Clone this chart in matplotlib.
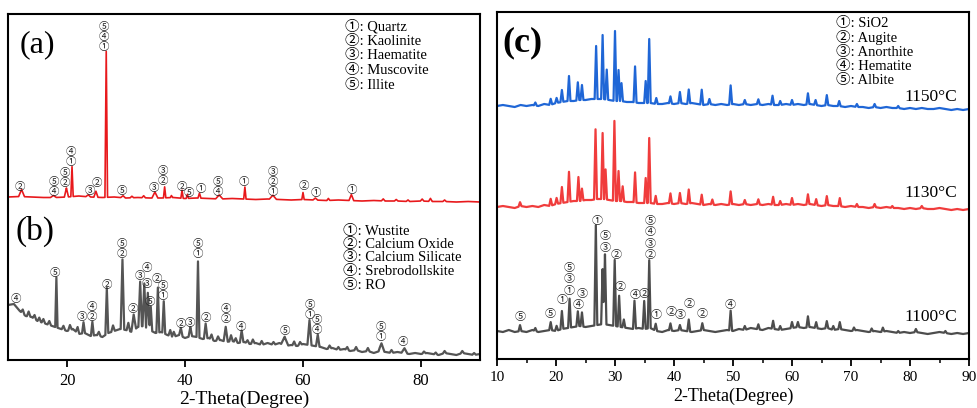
import numpy as np
import matplotlib.pyplot as plt

plt.rcParams['font.family'] = ['Liberation Serif', 'Noto Sans CJK SC']

# ---- (a) raw clay: baseline knots every 2 degrees, peaks as position / height / half-width
a_bx = np.arange(10, 91, 2)
a_by = [163, 163.5, 163, 162.5, 162.5, 163, 164, 163, 162.5, 163,
        162, 162.5, 162, 162, 162.5, 161.5, 162, 161.5, 161, 161.5,
        161, 160.5, 161, 160.5, 160, 160.5, 160, 159.5, 160, 159.5,
        159, 159.5, 159, 159, 158.5, 159, 158.5, 158.5, 158, 158.5, 158]
a_pos = [12.3, 17.7, 19.9, 20.85, 23.6, 24.9, 26.65, 29.5, 31.0, 33.0,
         34.9, 36.55, 37.7, 39.5, 40.4, 42.45, 45.8, 50.15, 54.9, 60.0,
         62.1, 64.3, 68.2, 73.6, 75.8, 77.8, 80.2, 81.6, 84.0]
a_h = [7, 2, 9, 30, 2, 6, 146, 2, 1.5, 2,
       6, 11, 2, 8, 4, 5, 4, 12, 4, 7,
       2, 2, 6, 2, 1.5, 1.5, 2, 3, 1.5]
a_w = [0.5, 0.5, 0.35, 0.2, 0.4, 0.35, 0.22, 0.4, 0.3, 0.3,
       0.5, 0.2, 0.2, 0.2, 0.2, 0.25, 0.6, 0.2, 0.6, 0.2,
       0.4, 0.25, 0.4, 0.3, 0.3, 0.3, 0.3, 0.3, 0.3]

# ---- (b) slag
b_bx = np.arange(10, 91, 1)
b_by = [55, 50, 49, 44, 43, 39, 37, 35, 33, 31,
        29, 31, 26, 27, 24, 25, 23, 27, 29, 31,
        30, 28, 33, 34, 30, 27, 28, 25, 23, 25,
        22, 24, 23, 21, 22, 19, 20, 18, 19, 17,
        18, 16, 17, 15, 17, 15, 17, 14, 15, 14,
        16, 15, 14, 13, 11, 12, 10, 11, 9, 10,
        8, 9, 7, 9, 8, 7, 8, 7, 6, 7,
        6, 7, 6, 5, 7, 6, 5, 7, 6, 5, 6]
b_pos = [11.0, 12.5, 13.5, 14.5, 15.3, 16.0, 17.0, 18.2, 19.4, 20.5,
         21.8, 22.8, 24.3, 25.4, 26.75, 27.8, 29.4, 30.4, 31.3, 32.4,
         33.1, 33.7, 34.2, 35.4, 36.4, 37.5, 38.1, 39.3, 40.9, 42.2,
         43.5, 44.5, 45.6, 46.9, 47.8, 48.6, 49.6, 50.6, 51.5, 53.0,
         55.0, 56.9, 58.5, 59.5, 61.1, 62.5, 64.5, 66.0, 67.5, 69.0,
         71.0, 73.3, 75.0, 77.2, 80.5, 82.5, 84.0, 87.0, 89.0]
b_h = [6, 4, 5, 4, 4, 4, 4, 50, 4, 5,
       6, 11, 14, 4, 46, 6, 70, 8, 16, 45,
       43, 36, 24, 45, 32, 6, 5, 8, 9, 76,
       15, 5, 4, 15, 6, 4, 12, 3, 4, 4,
       3, 9, 4, 3, 25, 12, 3, 3, 3, 3,
       3, 8, 3, 5, 2, 2, 2, 2, 2]
b_w = [1.0, 0.3, 0.3, 0.3, 0.3, 0.3, 0.3, 0.2, 0.3, 0.3,
       0.3, 0.25, 0.25, 0.3, 0.25, 0.3, 0.3, 0.3, 0.4, 0.3,
       0.3, 0.3, 0.25, 0.25, 0.25, 0.3, 0.3, 0.3, 0.3, 0.25,
       0.3, 0.3, 0.3, 0.35, 0.3, 0.3, 0.3, 0.3, 0.3, 0.3,
       0.3, 0.6, 0.3, 0.3, 0.35, 0.3, 0.3, 0.3, 0.3, 0.3,
       0.3, 0.5, 0.3, 0.5, 0.3, 0.3, 0.3, 0.3, 0.3]

# ---- (c) sintered at 1100 / 1130 / 1150 °C
c_bx = np.arange(10, 91, 1)
c1100_by = [28, 27, 29, 27, 28, 27, 29, 27, 28, 29,
            28, 30, 31, 32, 33, 32, 33, 34, 35, 34,
            33, 32, 31, 30, 31, 30, 31, 28, 27, 29,
            28, 29, 28, 27, 28, 29, 28, 27, 28, 29,
            28, 30, 29, 31, 30, 29, 31, 30, 29, 30,
            31, 32, 31, 32, 31, 30, 31, 29, 30, 29,
            28, 29, 28, 27, 28, 27, 28, 27, 26, 27,
            26, 27, 26, 25, 26, 27, 26, 25, 26, 25, 26]
c1100_pos = [13.9, 16.5, 19.1, 20.1, 21.0, 22.3, 23.7, 24.4, 26.75, 27.9,
             28.3, 29.95, 30.7, 31.5, 33.3, 34.95, 35.8, 36.9, 39.4, 41.0,
             42.5, 44.8, 49.6, 52.0, 54.3, 56.8, 58.0, 60.0, 61.0, 62.7,
             64.1, 65.9, 67.0, 68.1, 70.5, 73.5, 75.4, 78.0, 81.0, 86.0]
c1100_h = [6, 3, 8, 5, 18, 29, 15, 14, 100, 55,
           70, 66, 31, 8, 28, 28, 68, 7, 7, 5,
           12, 7, 20, 4, 5, 8, 4, 6, 5, 11,
           6, 7, 4, 7, 3, 3, 4, 2, 3, 2]

c1130_by = [152, 153, 152, 151, 153, 152, 153, 152, 154, 153,
            155, 156, 157, 158, 158, 159, 159, 160, 160, 159,
            158, 158, 157, 157, 156, 156, 156, 155, 155, 156,
            155, 156, 155, 156, 155, 154, 155, 154, 155, 154,
            155, 154, 155, 154, 155, 154, 155, 154, 154, 155,
            154, 155, 154, 155, 154, 153, 154, 153, 153, 152,
            153, 152, 152, 151, 152, 151, 152, 151, 151, 150,
            151, 150, 151, 150, 150, 151, 150, 149, 150, 149, 150]
c1130_pos = [13.9, 19.1, 20.1, 21.0, 22.2, 23.8, 24.4, 26.7, 27.9, 28.4,
             29.9, 30.6, 31.3, 33.4, 35.2, 35.8, 36.9, 39.4, 41.0, 42.5,
             44.7, 46.5, 49.6, 52.0, 54.3, 56.8, 58.0, 60.0, 62.7, 64.1,
             65.9, 68.1, 71.0, 74.0, 77.0, 82.0]
c1130_h = [4, 7, 6, 16, 30, 24, 12, 70, 66, 30,
           80, 30, 15, 30, 25, 65, 8, 10, 10, 14,
           10, 5, 13, 4, 5, 8, 4, 7, 10, 6,
           9, 8, 3, 3, 2, 2]

c1150_by = [253, 254, 253, 252, 254, 253, 254, 253, 255, 254,
            256, 257, 258, 258, 259, 259, 260, 260, 260, 259,
            258, 258, 257, 257, 256, 256, 256, 255, 255, 256,
            255, 256, 255, 256, 255, 254, 255, 254, 255, 254,
            255, 254, 255, 254, 255, 254, 255, 254, 254, 255,
            254, 255, 254, 255, 254, 253, 254, 253, 253, 252,
            253, 252, 252, 251, 252, 251, 252, 251, 251, 250,
            251, 250, 251, 250, 250, 251, 250, 249, 250, 249, 250]
c1150_pos = [16.5, 19.1, 20.1, 21.0, 22.2, 23.7, 24.4, 26.8, 27.9, 28.6,
             30.0, 30.6, 31.1, 33.4, 35.2, 35.8, 37.0, 39.4, 41.0, 42.5,
             44.7, 46.0, 49.6, 52.0, 54.3, 56.7, 58.0, 60.0, 62.7, 64.0,
             65.9, 68.0, 71.0, 74.0, 78.0]
c1150_h = [3, 6, 5, 12, 25, 18, 15, 53, 64, 30,
           70, 31, 18, 36, 22, 64, 6, 7, 11, 14,
           15, 5, 19, 4, 5, 9, 4, 5, 11, 5,
           10, 5, 3, 3, 2]

# phase marks: (2theta, height of lowest circle, circles top->bottom)
a_marks = [(12.0, 173.3, "②"), (17.7, 167.7, "⑤④"), (19.6, 176.7, "⑤②"),
           (20.7, 197.7, "④①"), (23.8, 169.3, "③"), (25.1, 177.3, "②"),
           (26.3, 313.3, "⑤④①"), (29.35, 169.3, "⑤"), (34.7, 172.3, "③"),
           (36.3, 179, "③②"), (39.4, 173.3, "②"), (40.7, 166.7, "⑤"),
           (42.6, 171, "①"), (45.6, 167.7, "⑤④"), (50.0, 178.3, "①"),
           (54.8, 167.7, "③②①"), (60.2, 174.3, "②"), (62.1, 166.7, "①"),
           (68.2, 170, "①")]
b_marks = [(11.4, 60.7, "④"), (18.0, 87.3, "⑤"), (22.5, 42.7, "③"),
           (24.2, 42.7, "④②"), (26.7, 75, "②"), (29.35, 105.7, "⑤②"),
           (31.2, 50.7, "②"), (32.3, 84.5, "③"), (33.5, 91.5, "④"),
           (33.6, 76.5, "③"), (34.1, 58.3, "⑤"), (35.2, 80.7, "②"),
           (36.3, 64, "⑤①"), (39.3, 35.7, "②"), (40.9, 37.3, "③"),
           (42.1, 105.7, "⑤①"), (43.5, 42.3, "②"), (46.9, 40.7, "④②"),
           (49.5, 33.3, "④"), (56.9, 29, "⑤"), (61.1, 44.7, "⑤①"),
           (62.4, 30, "⑤④"), (73.2, 22.7, "⑤①"), (77.0, 17.7, "④")]
c_marks = [(13.9, 42.3, "⑤"), (19.0, 45, "⑤"), (20.97, 59, "①"),
           (22.25, 68.3, "⑤③①"), (23.8, 53.7, "④"), (24.5, 65, "③"),
           (26.9, 138.3, "①"), (28.3, 111.3, "⑤③"), (30.2, 104, "②"),
           (30.8, 71.7, "②"), (33.4, 64, "④"), (34.97, 64.7, "②"),
           (35.9, 104, "⑤④③②"), (36.9, 44, "①"), (39.5, 46.7, "②"),
           (41.0, 44, "③"), (42.6, 55, "②"), (44.8, 45, "②"), (49.6, 54, "④")]

a_phases = ["Quartz", "Kaolinite", "Haematite", "Muscovite", "Illite"]
b_phases = ["Wustite", "Calcium Oxide", "Calcium Silicate", "Srebrodollskite", "RO"]
c_phases = ["SiO2", "Augite", "Anorthite", "Hematite", "Albite"]
numbers = ["①", "②", "③", "④", "⑤"]
temps = ["1150°C", "1130°C", "1100°C"]
temp_y = [262.3, 166.3, 42.3]


def pattern(bx, by, pos, h, w):
    # baseline plus triangular reflections, evaluated only at knots / feet / tops
    pos = np.asarray(pos, float)
    h = np.asarray(h, float)
    w = np.broadcast_to(np.asarray(w, float), pos.shape)
    xs = np.unique(np.clip(np.concatenate([bx, pos - w, pos, pos + w]), 10, 90))
    ys = np.interp(xs, bx, by)
    for p, hh, ww in zip(pos, h, w):
        ys += hh * np.clip(1 - np.abs(xs - p) / ww, 0, None)
    return xs, ys


def put_marks(ax, marks, step, size):
    for x, y0, s in marks:
        for k, ch in enumerate(reversed(s)):
            ax.text(x, y0 + k * step, ch, ha='center', va='center',
                    fontsize=size, family='Noto Sans CJK SC', color='#222222')


def put_key(ax, x, y0, step, names):
    # rows placed on their baselines so descenders don't shift them
    for i, name in enumerate(names):
        ax.text(x, y0 - i * step - 4.5, numbers[i] + ": " + name, fontsize=10.5,
                ha='left', va='baseline')


fig = plt.figure(figsize=(9.77, 4.08), dpi=100)

ax1 = fig.add_axes([8 / 977, 48 / 408, 472 / 977, 346 / 408])
x, y = pattern(a_bx, a_by, a_pos, a_h, a_w)
ax1.plot(x, y, color='#e8191c', lw=1.2)
x, y = pattern(b_bx, b_by, b_pos, b_h, b_w)
ax1.plot(x, y, color='#555555', lw=1.6)
put_marks(ax1, a_marks, 10, 7.5)
put_marks(ax1, b_marks, 10, 7.5)
put_key(ax1, 67.1, 334, 14.5, a_phases)
put_key(ax1, 66.8, 130, 13.5, b_phases)
ax1.text(12.0, 315, "(a)", fontsize=23, ha='left', va='center')
ax1.text(11.3, 128.3, "(b)", fontsize=24, ha='left', va='center')
ax1.set_xlim(10, 90)
ax1.set_ylim(0, 346)
ax1.set_xticks([20, 40, 60, 80])
ax1.set_yticks([])
ax1.tick_params(axis='x', direction='out', length=5, width=1.3, labelsize=12, pad=4.5)
ax1.set_xlabel("2-Theta(Degree)", fontsize=14, labelpad=1)

ax2 = fig.add_axes([497 / 977, 49 / 408, 472 / 977, 347 / 408])
x, y = pattern(c_bx, c1150_by, c1150_pos, c1150_h, 0.25)
ax2.plot(x, y, color='#1f66d6', lw=1.6)
x, y = pattern(c_bx, c1130_by, c1130_pos, c1130_h, 0.25)
ax2.plot(x, y, color='#f03c3c', lw=1.6)
x, y = pattern(c_bx, c1100_by, c1100_pos, c1100_h, 0.25)
ax2.plot(x, y, color='#4d4d4d', lw=1.6)
put_marks(ax2, c_marks, 11.4, 8)
put_key(ax2, 67.5, 336.3, 14.3, c_phases)
for t, ty in zip(temps, temp_y):
    ax2.text(88.0, ty, t, fontsize=12.5, ha='right', va='center')
ax2.text(10.97, 315.7, "(c)", fontsize=26, fontweight='bold', ha='left', va='center')
ax2.set_xlim(10, 90)
ax2.set_ylim(0, 347)
ax2.set_xticks(range(10, 91, 10))
ax2.set_xticks(range(15, 90, 10), minor=True)
ax2.set_yticks([])
ax2.tick_params(axis='x', which='major', direction='out', length=5, width=1.3,
                labelsize=11, pad=3.5)
ax2.tick_params(axis='x', which='minor', direction='out', length=3, width=1.1)
ax2.set_xlabel("2-Theta(Degree)", fontsize=13, labelpad=3)

for ax in (ax1, ax2):
    for sp in ax.spines.values():
        sp.set_linewidth(1.5)

fig.savefig("out.png", dpi=100)
